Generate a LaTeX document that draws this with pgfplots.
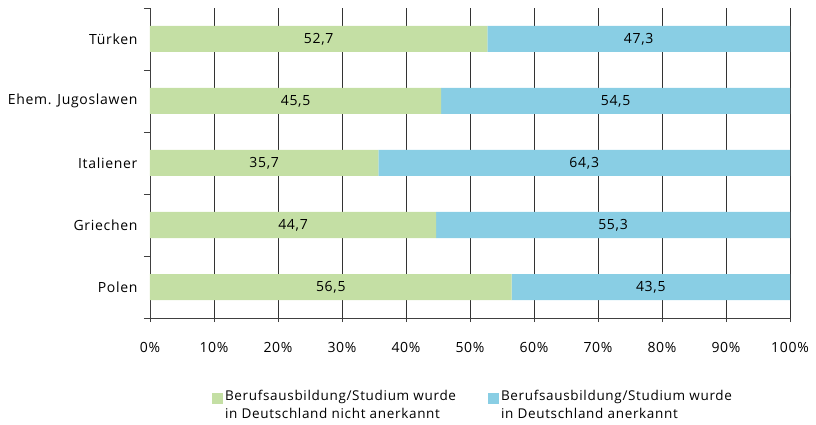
\documentclass[border=0pt]{standalone}
\usepackage{pgfplots}
\usepackage{pgfplotstable}
\pgfplotsset{compat=1.18}
\usepackage{fontspec}
\setmainfont{Open Sans}[LetterSpace=5]
\definecolor{cgreen}{RGB}{196,223,164}
\definecolor{cblue}{RGB}{137,206,228}
\pgfplotstableread{
y green blue
0 56.5 43.5
1 44.7 55.3
2 35.7 64.3
3 45.5 54.5
4 52.7 47.3
}\datatable
\begin{document}
\begin{tikzpicture}
\path[use as bounding box] (-150pt,-107pt) rectangle (666pt,318pt);
\begin{axis}[
  at={(0pt,0pt)}, anchor=south west,
  scale only axis, width=640pt, height=310pt,
  xbar stacked, bar width=26pt,
  xmin=0, xmax=100, ymin=-0.5, ymax=4.5,
  axis x line*=bottom, axis y line*=left,
  axis line style={draw=black!75, line width=0.8pt, -},
  tick align=outside,
  xtick={0,10,...,100},
  xticklabel={\pgfmathprintnumber{\tick}\%},
  xmajorgrids, grid style={draw=black!80, line width=0.8pt},
  major tick length=4pt, minor tick length=6pt,
  major x tick style={draw=black!75, line width=0.8pt},
  ytick={0,...,4},
  yticklabels={Polen,Griechen,Italiener,Ehem. Jugoslawen,Türken},
  minor ytick={-0.5,0.5,...,4.5},
  major y tick style={draw=none},
  minor y tick style={draw=black!75, line width=0.8pt},
  /pgf/number format/assume math mode=true,
  tick label style={font=\fontsize{14pt}{17pt}\selectfont, text=black},
  xticklabel style={yshift=-17pt},
  yticklabel style={xshift=-5pt},
  nodes near coords={\pgfmathprintnumber[fixed,fixed zerofill,precision=1,use comma,assume math mode=true]{\pgfplotspointmeta}},
  point meta=explicit,
  nodes near coords style={font=\fontsize{14pt}{17pt}\selectfont, text=black, anchor=center},
  legend style={at={(0.092,-0.22)}, anchor=north west, draw=none, fill=none,
    font=\fontsize{13.5pt}{18pt}\selectfont, cells={align=left},
    /tikz/every even column/.append style={column sep=30pt}},
  legend columns=2, legend cell align=left,
  legend image code/.code={\fill[#1,draw=none] (0pt,1pt) rectangle (11pt,12pt);},
]
\addplot+[fill=cgreen, draw=none] table[x=green, y=y, meta=green] {\datatable};
\addlegendentry{Berufsausbildung/Studium wurde\\in Deutschland nicht anerkannt}
\addplot+[fill=cblue, draw=none] table[x=blue, y=y, meta=blue] {\datatable};
\addlegendentry{Berufsausbildung/Studium wurde\\in Deutschland anerkannt}
\end{axis}
\end{tikzpicture}
\end{document}
